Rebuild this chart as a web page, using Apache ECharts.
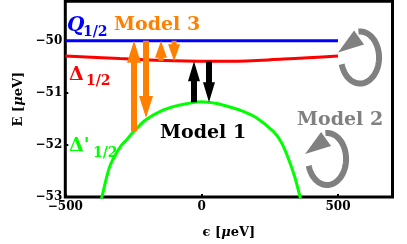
<!DOCTYPE html>
<html><head><meta charset="utf-8">
<script src="https://cdn.jsdelivr.net/npm/echarts@6/dist/echarts.min.js"></script>
<style>html,body{margin:0;padding:0;background:#fff}#c{width:407px;height:244px}</style>
</head><body><div id="c"></div>
<script>
// ---- data ----
const xTicks = [-500, 0, 500];
const yTicks = [-53, -52, -51, -50];
const qEps = [-500, 500];
const qE = [-50, -50];
const dEps = [-500, -300, -100, 100, 300, 500];
const dE = [-50.29, -50.34, -50.38, -50.39, -50.35, -50.29];
const dpEps = [-372, -366, -350, -336, -315, -293, -275, -256, -208, -146, -86, -24, 0, 50, 104, 150, 202, 263, 290, 312, 342, 361, 366];
const dpE = [-53.1, -53.0, -52.65, -52.4, -52.18, -52.0, -51.9, -51.78, -51.53, -51.34, -51.24, -51.18, -51.17, -51.2, -51.27, -51.35, -51.48, -51.74, -51.93, -52.18, -52.62, -53.0, -53.1];
// Model 3 arrows (long): eps, from, to
const m3LongEps = [-248, -204];
const m3LongFrom = [-51.74, -50.0];
const m3LongTo = [-50.0, -51.48];
// Model 3 arrows (short)
const m3ShortEps = [-149, -101];
const m3ShortFrom = [-50.38, -50.0];
const m3ShortTo = [-50.0, -50.39];
// Model 1 arrows
const m1Eps = [-28, 27];
const m1From = [-51.18, -50.39];
const m1To = [-50.39, -51.18];
// Model 2 loops (centres)
const loopEps = [581, 460];
const loopE = [-50.32, -52.27];

const FONT = '"DejaVu Serif"';
const zip3 = (a, b, c) => a.map((v, i) => [v, b[i], c[i]]);
const zip2 = (a, b) => a.map((v, i) => [v, b[i]]);

function arrowItem(color, sw, hw, hl) {
  return function (params, api) {
    const p1 = api.coord([api.value(0), api.value(1)]);
    const p2 = api.coord([api.value(0), api.value(2)]);
    const x = p1[0], y1 = p1[1], y2 = p2[1];
    const dir = y2 > y1 ? 1 : -1;
    const hb = y2 - dir * hl;
    return {
      type: 'polygon',
      shape: { points: [[x - sw / 2, y1], [x - sw / 2, hb], [x - hw / 2, hb], [x, y2], [x + hw / 2, hb], [x + sw / 2, hb], [x + sw / 2, y1]] },
      style: { fill: color }
    };
  };
}

function loopItem(params, api) {
  const c = api.coord([api.value(0), api.value(1)]);
  const cx = c[0], cy = c[1], rx = 19, ry = 26;
  const pts = [];
  for (let t = 165; t >= -98; t -= 4) {
    const r = t * Math.PI / 180;
    pts.push([cx + rx * Math.cos(r), cy + ry * Math.sin(r)]);
  }
  return {
    type: 'group',
    children: [
      { type: 'polyline', shape: { points: pts }, style: { stroke: '#808080', lineWidth: 6, fill: null } },
      { type: 'polygon', shape: { points: [[cx - 22, cy - 5], [cx - 6, cy - 27], [cx + 4, cy - 13]] }, style: { fill: '#808080' } }
    ]
  };
}

const chart = echarts.init(document.getElementById('c'), null, { renderer: 'canvas' });
const minusFmt = v => (v < 0 ? '\u2212' : '') + Math.abs(v);
chart.setOption({
  animation: false,
  backgroundColor: '#fff',
  grid: { left: 65.3, right: 14.5, top: 1.3, bottom: 42, show: true, borderColor: '#000', borderWidth: 3, backgroundColor: 'transparent' },
  xAxis: {
    type: 'value', min: -500, max: 700, interval: 500,
    axisLine: { show: false, onZero: false }, splitLine: { show: false },
    axisTick: { inside: true, length: 3, lineStyle: { color: '#000', width: 2 } },
    axisLabel: { showMaxLabel: false, margin: 4, formatter: minusFmt, color: '#000', fontFamily: FONT, fontWeight: 'bold', fontSize: 12 },
    name: '{n|\u03f5 [}{m|\u03bc}{n|eV]}', nameLocation: 'middle', nameGap: 29,
    nameTextStyle: { rich: { n: { fontFamily: FONT, fontWeight: 'bold', fontSize: 13, color: '#000' }, m: { fontFamily: FONT, fontWeight: 'bold', fontStyle: 'italic', fontSize: 13, color: '#000' } } }
  },
  yAxis: {
    type: 'value', min: -53, max: -49.24, interval: 1,
    axisLine: { show: false, onZero: false }, splitLine: { show: false },
    axisTick: { inside: true, length: 3, lineStyle: { color: '#000', width: 2 } },
    axisLabel: { showMaxLabel: false, margin: 3, formatter: minusFmt, color: '#000', fontFamily: FONT, fontWeight: 'bold', fontSize: 12 },
    name: '{n|E [}{m|\u03bc}{n|eV]}', nameLocation: 'middle', nameGap: 35,
    nameTextStyle: { rich: { n: { fontFamily: FONT, fontWeight: 'bold', fontSize: 13, color: '#000' }, m: { fontFamily: FONT, fontWeight: 'bold', fontStyle: 'italic', fontSize: 13, color: '#000' } } }
  },
  series: [
    { type: 'line', data: zip2(qEps, qE), symbol: 'none', lineStyle: { color: '#0000ff', width: 3 }, z: 2 },
    { type: 'line', data: zip2(dEps, dE), symbol: 'none', smooth: 0.4, lineStyle: { color: '#ff0000', width: 3 }, z: 2 },
    { type: 'line', data: zip2(dpEps, dpE), symbol: 'none', smooth: 0.2, lineStyle: { color: '#00ff00', width: 3 }, z: 2 },
    { type: 'custom', renderItem: arrowItem('#ff8000', 6, 14, 22), data: zip3(m3LongEps, m3LongFrom, m3LongTo), z: 3, clip: false },
    { type: 'custom', renderItem: arrowItem('#ff8000', 5, 12, 17), data: zip3(m3ShortEps, m3ShortFrom, m3ShortTo), z: 3, clip: false },
    { type: 'custom', renderItem: arrowItem('#000000', 6, 12, 20), data: zip3(m1Eps, m1From, m1To), z: 3, clip: false },
    { type: 'custom', renderItem: loopItem, data: zip2(loopEps, loopE), z: 3, clip: false }
  ],
  graphic: [
    { type: 'text', x: 67, y: 16, style: { text: 'Q', font: 'italic bold 20px ' + FONT, fill: '#0000ff' }, z: 10 },
    { type: 'text', x: 83, y: 25, style: { text: '1/2', font: 'bold 14px ' + FONT, fill: '#0000ff' }, z: 10 },
    { type: 'text', x: 114, y: 16, style: { text: 'Model 3', font: 'bold 19px ' + FONT, fill: '#ff8000' }, z: 10 },
    { type: 'text', x: 69, y: 66, style: { text: '\u0394', font: 'bold 19px ' + FONT, fill: '#ff0000' }, z: 10 },
    { type: 'text', x: 86, y: 74, style: { text: '1/2', font: 'bold 14px ' + FONT, fill: '#ff0000' }, z: 10 },
    { type: 'text', x: 69, y: 137, style: { text: '\u0394\'', font: 'bold 19px ' + FONT, fill: '#00ff00' }, z: 10 },
    { type: 'text', x: 93, y: 146, style: { text: '1/2', font: 'bold 14px ' + FONT, fill: '#00ff00' }, z: 10 },
    { type: 'text', x: 160, y: 124, style: { text: 'Model 1', font: 'bold 19px ' + FONT, fill: '#000000' }, z: 10 },
    { type: 'text', x: 297, y: 111, style: { text: 'Model 2', font: 'bold 19px ' + FONT, fill: '#808080' }, z: 10 }
  ]
});
</script></body></html>
